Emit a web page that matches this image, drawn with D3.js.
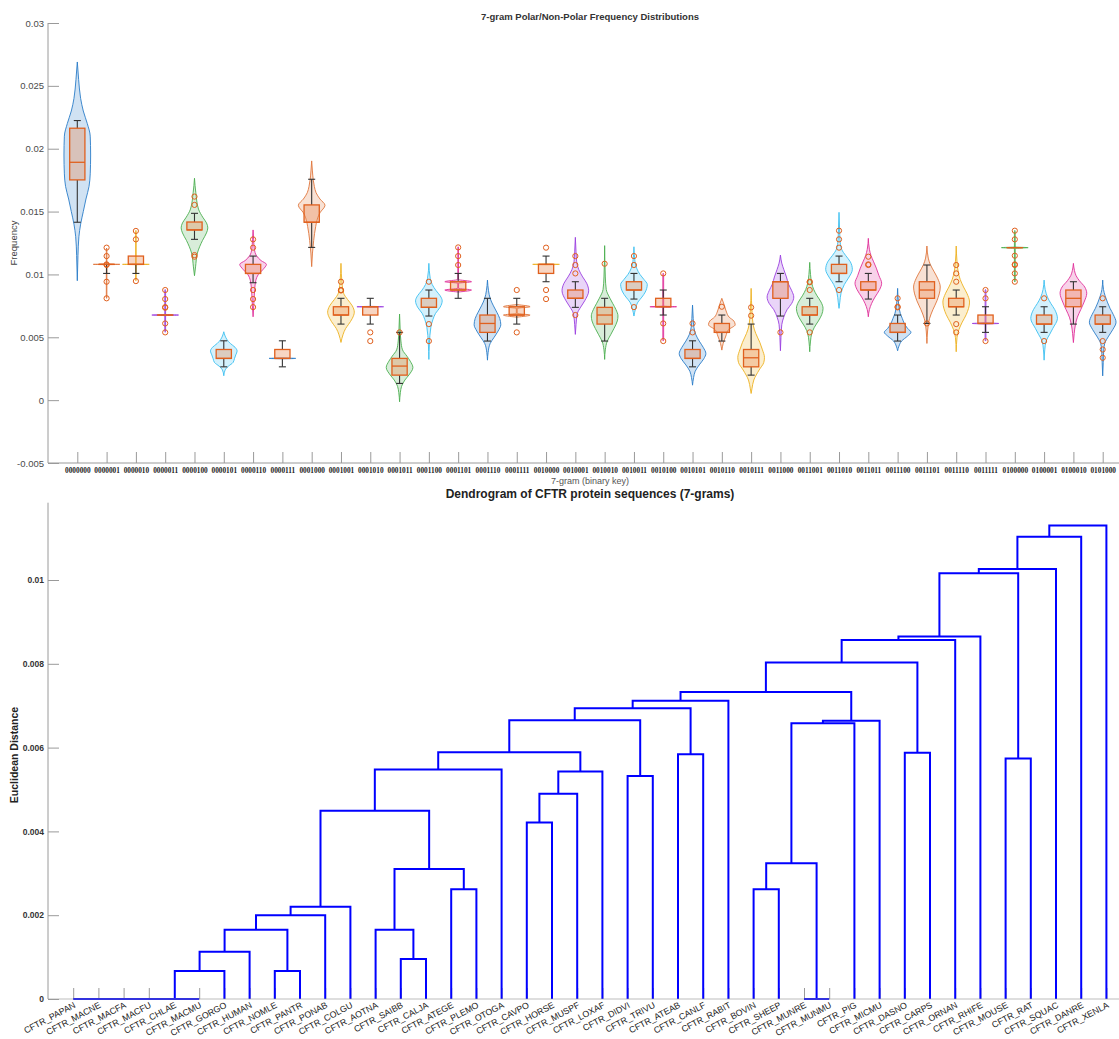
<!DOCTYPE html>
<html><head><meta charset="utf-8">
<script src="https://cdn.jsdelivr.net/npm/d3@7"></script>
<style>body{margin:0;background:#fff}svg{display:block}</style>
</head><body>
<svg id="c" width="1119" height="1039"></svg>
<script>
// ---------------- DATA: violin chart ----------------
const categories = ["0000000","0000001","0000010","0000011","0000100","0000101","0000110","0000111",
"0001000","0001001","0001010","0001011","0001100","0001101","0001110","0001111","0010000","0010001",
"0010010","0010011","0010100","0010101","0010110","0010111","0011000","0011001","0011010","0011011",
"0011100","0011101","0011110","0011111","0100000","0100001","0100010","0101000"];

// [whiskerLow, q1, median, q3, whiskerHigh]
const boxStats = [
[0.01415,0.01752,0.01892,0.02163,0.02224],
[0.01008,0.0108,0.0108,0.0108,0.0108],
[0.01008,0.0108,0.0108,0.01146,0.01146],
[0.00677,0.00677,0.00677,0.00677,0.00677],
[0.01279,0.01354,0.01354,0.01417,0.01486],
[0.00265,0.00332,0.00332,0.00403,0.00472],
[0.00934,0.01008,0.01008,0.0108,0.01146],
[0.00265,0.00332,0.00332,0.00403,0.00472],
[0.01215,0.01415,0.01415,0.01553,0.01757],
[0.00605,0.00677,0.00677,0.00743,0.0081],
[0.00605,0.00677,0.00743,0.00743,0.0081],
[0.00133,0.00199,0.00271,0.00332,0.00539],
[0.00669,0.00738,0.00738,0.0081,0.00876],
[0.0081,0.00876,0.00876,0.00942,0.01008],
[0.0047,0.00539,0.0061,0.00677,0.0081],
[0.00605,0.00677,0.00677,0.00743,0.0081],
[0.00942,0.01008,0.0108,0.0108,0.01146],
[0.00738,0.0081,0.0081,0.00876,0.00942],
[0.0047,0.00605,0.00677,0.00738,0.0081],
[0.00804,0.00876,0.00876,0.00942,0.01008],
[0.00677,0.00743,0.00743,0.0081,0.00876],
[0.00265,0.00332,0.00332,0.00403,0.00472],
[0.0047,0.00539,0.00539,0.0061,0.00677],
[0.00199,0.00265,0.00337,0.00403,0.00605],
[0.00669,0.0081,0.00942,0.00942,0.01008],
[0.00605,0.00677,0.00677,0.00743,0.0081],
[0.00942,0.01008,0.01008,0.0108,0.01146],
[0.00804,0.00876,0.00876,0.00942,0.01008],
[0.0047,0.00539,0.00539,0.0061,0.00677],
[0.0061,0.0081,0.00876,0.00942,0.01075],
[0.00677,0.00743,0.00743,0.0081,0.00876],
[0.00539,0.0061,0.0061,0.00677,0.00743],
[0.01213,0.01213,0.01213,0.01213,0.01213],
[0.00539,0.00605,0.00605,0.00677,0.00743],
[0.00605,0.00743,0.0081,0.00876,0.00942],
[0.00539,0.00605,0.00605,0.00677,0.00743]
];

const outliers = [
[],
[0.01213,0.01146,0.0108,0.01075,0.00942,0.0081],
[0.01346,0.01279,0.00947],
[0.00876,0.00804,0.0074,0.00735,0.0061,0.00539],
[0.01619,0.01553,0.01154,0.01141],
[],
[0.01279,0.01213,0.00876,0.00804,0.0074],
[],
[],
[0.00942,0.00876,0.00872],
[0.00539,0.0047],
[0.00539],
[0.00942,0.00605,0.0047],
[0.01215,0.01146,0.01075],
[],
[0.00876,0.00539],
[0.01213,0.00876,0.00804],
[0.01146,0.01075,0.01008,0.00677],
[0.01085],
[0.01146,0.01075,0.0074],
[0.01008,0.0061,0.0047],
[0.0061,0.00539],
[0.00743],
[0.00738,0.00672],
[0.00539],
[0.00942,0.00938,0.00876,0.00539],
[0.01348,0.01279,0.01213,0.00876],
[0.01141,0.0108,0.01075],
[0.0081,0.00743,0.00738],
[0.0061],
[0.01075,0.01008,0.00942,0.00605,0.00539],
[0.00876,0.0081,0.0047],
[0.01348,0.01279,0.01149,0.0108,0.01075,0.01008,0.00942],
[0.0081,0.0047],
[],
[0.0081,0.0047,0.00403,0.00337]
];

// violin outline: [value, relative half-width]
const violinProfiles = [
[[0.0095,0],[0.0115,0.05],[0.013,0.12],[0.014,0.25],[0.015,0.45],[0.016,0.65],[0.017,0.88],[0.018,0.97],[0.0195,1],[0.021,0.97],[0.022,0.75],[0.023,0.45],[0.024,0.25],[0.0255,0.1],[0.0269,0]],
[[0.0081,0],[0.0082,0.02],[0.01077,0.02],[0.0108,1],[0.01083,0.02],[0.012,0.02],[0.0121,0]],
[[0.0095,0],[0.0096,0.02],[0.01077,0.02],[0.0108,1],[0.01083,0.02],[0.0134,0.02],[0.0135,0]],
[[0.0054,0],[0.0055,0.03],[0.00672,0.03],[0.00677,1],[0.00682,0.03],[0.0087,0.03],[0.0088,0]],
[[0.0099,0],[0.0106,0.08],[0.0117,0.22],[0.0127,0.6],[0.0133,0.9],[0.0137,1],[0.0141,0.9],[0.0145,0.65],[0.0152,0.3],[0.0165,0.1],[0.01765,0]],
[[0.00194,0],[0.0024,0.1],[0.0027,0.35],[0.003,0.7],[0.0033,0.8],[0.0036,0.9],[0.0039,1],[0.0042,0.85],[0.0045,0.5],[0.0048,0.25],[0.0051,0.1],[0.00544,0]],
[[0.00663,0],[0.0075,0.05],[0.0088,0.12],[0.0095,0.2],[0.01,0.4],[0.0104,0.75],[0.0108,1],[0.0111,0.6],[0.0115,0.25],[0.012,0.1],[0.0128,0.04],[0.01354,0]],
[[0.00329,0],[0.00332,1],[0.00335,0]],
[[0.01062,0],[0.0117,0.06],[0.0127,0.15],[0.0138,0.3],[0.0145,0.45],[0.0149,0.62],[0.0155,1],[0.016,0.62],[0.0165,0.33],[0.017,0.2],[0.0175,0.12],[0.0183,0.05],[0.01903,0]],
[[0.00459,0],[0.0052,0.15],[0.0057,0.35],[0.006,0.55],[0.0065,0.85],[0.007,1],[0.0075,0.85],[0.008,0.5],[0.0085,0.2],[0.0093,0.08],[0.01088,0]],
[[0.0074,0],[0.00743,1],[0.00746,0]],
[[-0.00013,0],[0.0006,0.06],[0.0011,0.15],[0.0016,0.4],[0.002,0.7],[0.0026,1],[0.0031,0.8],[0.0035,0.55],[0.004,0.22],[0.0047,0.1],[0.0055,0.05],[0.00685,0]],
[[0.00324,0],[0.0045,0.04],[0.0058,0.15],[0.0064,0.3],[0.0069,0.5],[0.0074,0.85],[0.0079,1],[0.0083,0.85],[0.0087,0.55],[0.0092,0.25],[0.0097,0.1],[0.01088,0]],
[[0.0086,0],[0.00876,1],[0.0089,0.03],[0.0093,0.03],[0.00942,1],[0.0096,0.03],[0.0121,0.02],[0.0122,0]],
[[0.00318,0],[0.0038,0.05],[0.0045,0.2],[0.005,0.5],[0.0055,0.8],[0.006,1],[0.0065,0.92],[0.007,0.7],[0.0075,0.45],[0.0081,0.2],[0.0087,0.08],[0.00955,0]],
[[0.0066,0],[0.00677,1],[0.0069,0.03],[0.0073,0.03],[0.00743,1],[0.0076,0]],
[[0.01077,0],[0.0108,1],[0.01083,0]],
[[0.00523,0],[0.006,0.05],[0.0069,0.15],[0.0074,0.4],[0.0079,0.7],[0.0087,1],[0.0093,0.85],[0.0098,0.55],[0.0104,0.25],[0.011,0.1],[0.0118,0.05],[0.01295,0]],
[[0.00324,0],[0.004,0.05],[0.0047,0.2],[0.0052,0.45],[0.0057,0.7],[0.0063,0.95],[0.0067,1],[0.0072,0.85],[0.0077,0.6],[0.0081,0.4],[0.0088,0.12],[0.0098,0.05],[0.01229,0]],
[[0.00669,0],[0.0072,0.1],[0.0078,0.3],[0.0082,0.6],[0.0086,0.85],[0.0092,1],[0.0096,0.75],[0.01,0.45],[0.0105,0.2],[0.011,0.08],[0.0122,0]],
[[0.0047,0],[0.0048,0.03],[0.00738,0.03],[0.00743,1],[0.00748,0.03],[0.01,0.03],[0.0101,0]],
[[0.00119,0],[0.0018,0.08],[0.0023,0.2],[0.0028,0.5],[0.0033,0.85],[0.0037,1],[0.0042,0.8],[0.0047,0.5],[0.0052,0.25],[0.0058,0.1],[0.0065,0.05],[0.00756,0]],
[[0.00398,0],[0.0045,0.1],[0.0051,0.3],[0.0056,0.5],[0.006,1],[0.0063,0.9],[0.0066,0.55],[0.007,0.35],[0.0075,0.2],[0.0081,0]],
[[0.00053,0],[0.0009,0.06],[0.0016,0.2],[0.0024,0.6],[0.003,0.95],[0.0034,1],[0.004,0.85],[0.0046,0.65],[0.0053,0.35],[0.006,0.15],[0.007,0.07],[0.00889,0]],
[[0.00393,0],[0.005,0.04],[0.006,0.1],[0.0066,0.25],[0.0072,0.5],[0.0077,0.85],[0.0082,1],[0.0087,0.85],[0.0092,0.62],[0.0098,0.45],[0.0104,0.25],[0.0109,0.1],[0.01154,0]],
[[0.00385,0],[0.0047,0.06],[0.0053,0.15],[0.0058,0.35],[0.0063,0.65],[0.0068,0.9],[0.0073,1],[0.0078,0.85],[0.0083,0.55],[0.0088,0.3],[0.0093,0.15],[0.01,0.06],[0.01096,0]],
[[0.0073,0],[0.0078,0.06],[0.0085,0.15],[0.0092,0.4],[0.0097,0.7],[0.0104,1],[0.011,0.85],[0.0115,0.5],[0.012,0.2],[0.0128,0.07],[0.0137,0.04],[0.01494,0]],
[[0.00663,0],[0.0072,0.08],[0.0077,0.25],[0.0082,0.5],[0.0088,0.85],[0.0093,1],[0.0099,0.8],[0.0105,0.6],[0.011,0.4],[0.0115,0.2],[0.012,0.08],[0.01287,0]],
[[0.00393,0],[0.0043,0.1],[0.0047,0.3],[0.0051,0.75],[0.0054,1],[0.0057,0.75],[0.0061,0.5],[0.0065,0.35],[0.0069,0.2],[0.0076,0.08],[0.00889,0]],
[[0.00451,0],[0.0055,0.05],[0.006,0.1],[0.0065,0.2],[0.0072,0.45],[0.0079,0.75],[0.009,1],[0.0097,0.8],[0.0102,0.55],[0.0108,0.25],[0.0113,0.1],[0.01226,0]],
[[0.00385,0],[0.005,0.06],[0.0056,0.2],[0.0062,0.45],[0.0068,0.75],[0.0078,1],[0.0085,0.8],[0.009,0.55],[0.0096,0.3],[0.0102,0.15],[0.011,0.06],[0.01226,0]],
[[0.0047,0],[0.0048,0.03],[0.00605,0.03],[0.0061,1],[0.00615,0.03],[0.0087,0.03],[0.0088,0]],
[[0.0094,0],[0.0095,0.03],[0.01208,0.03],[0.01213,1],[0.01218,0.03],[0.0134,0.03],[0.0135,0]],
[[0.00318,0],[0.004,0.05],[0.0047,0.15],[0.0052,0.4],[0.0057,0.65],[0.0065,1],[0.0072,0.8],[0.0077,0.5],[0.0082,0.25],[0.0088,0.08],[0.00955,0]],
[[0.00458,0],[0.0053,0.06],[0.006,0.15],[0.0066,0.3],[0.0072,0.55],[0.0078,0.8],[0.0085,1],[0.009,0.85],[0.0095,0.45],[0.0099,0.2],[0.0103,0.08],[0.01088,0]],
[[0.00193,0],[0.003,0.04],[0.004,0.08],[0.0045,0.15],[0.0051,0.45],[0.0056,0.75],[0.0062,1],[0.0068,0.8],[0.0073,0.55],[0.0078,0.35],[0.0083,0.18],[0.0088,0.06],[0.00955,0]]
];

const freqTicks = [-0.005,0,0.005,0.01,0.015,0.02,0.025,0.03];
const freqTickLabels = ["-0.005","0","0.005","0.01","0.015","0.02","0.025","0.03"];

// ---------------- DATA: dendrogram ----------------
const leafNames = ["CFTR_PAPAN","CFTR_MACNE","CFTR_MACFA","CFTR_MACFU","CFTR_CHLAE","CFTR_MACMU",
"CFTR_GORGO","CFTR_HUMAN","CFTR_NOMLE","CFTR_PANTR","CFTR_PONAB","CFTR_COLGU","CFTR_AOTNA","CFTR_SAIBB",
"CFTR_CALJA","CFTR_ATEGE","CFTR_PLEMO","CFTR_OTOGA","CFTR_CAVPO","CFTR_HORSE","CFTR_MUSPF","CFTR_LOXAF",
"CFTR_DIDVI","CFTR_TRIVU","CFTR_ATEAB","CFTR_CANLF","CFTR_RABIT","CFTR_BOVIN","CFTR_SHEEP","CFTR_MUNRE",
"CFTR_MUNMU","CFTR_PIG","CFTR_MICMU","CFTR_DASNO","CFTR_CARPS","CFTR_ORNAN","CFTR_RHIFE","CFTR_MOUSE",
"CFTR_RAT","CFTR_SQUAC","CFTR_DANRE","CFTR_XENLA"];

// linkage rows: [child A, child B, height]; leaves are 1..42, merged clusters 43..83
const linkage = [
[1,2,0],[43,3,0],[44,4,0],[45,5,0],[46,6,0],
[47,7,0.000668],[48,8,0.00113],[9,10,0.000668],[49,50,0.00165],[51,11,0.0020],[52,12,0.0022],
[14,15,0.000955],[13,54,0.00165],[16,17,0.00262],[55,56,0.0031],[53,57,0.00449],[58,18,0.00548],
[19,20,0.00421],[60,21,0.0049],[61,22,0.00543],[59,62,0.00589],[23,24,0.00532],[63,64,0.00665],
[25,26,0.00584],[65,66,0.00694],[67,27,0.00712],[28,29,0.00262],[30,31,0],[69,70,0.00324],
[71,32,0.00658],[72,33,0.00664],[68,73,0.00733],[34,35,0.00588],[74,75,0.00803],[76,36,0.00857],
[77,37,0.00865],[38,39,0.00574],[78,79,0.01016],[80,40,0.01026],[81,41,0.01103],[82,42,0.0113]
];
const distTicks = [0,0.002,0.004,0.006,0.008,0.01];
const distTickLabels = ["0","0.002","0.004","0.006","0.008","0.01"];

// ---------------- DRAW ----------------
const svg = d3.select("#c");
const palette = ["#2A7DC8","#E0763C","#EDB120","#9B3FE0","#4CAF50","#3CC0F0","#E0309A"];
const axisCol = "#9a9a9a";

// ---- violin panel ----
const x1 = d3.scaleLinear().domain([0, categories.length + 1]).range([48, 1132]);
const y1 = d3.scaleLinear().domain([-0.005, 0.03]).range([463, 23]);
const g1 = svg.append("g");
const hw = x1(0.455) - x1(0);
const bw = x1(0.26) - x1(0);
const cw = x1(0.12) - x1(0);

const ax1 = g1.append("g").attr("transform","translate(48,0)")
  .call(d3.axisLeft(y1).tickValues(freqTicks).tickFormat((d,i)=>freqTickLabels[i]).tickSize(-11).tickPadding(14));
const ax1b = g1.append("g").attr("transform","translate(0,463)")
  .call(d3.axisBottom(x1).tickValues(d3.range(1, categories.length+1)).tickFormat(d=>categories[d-1]).tickSize(-11).tickPadding(5));
[ax1, ax1b].forEach(a=>{
  a.select(".domain").attr("stroke",axisCol);
  a.selectAll(".tick line").attr("stroke",axisCol);
});
ax1.select(".domain").attr("d","M0,23V463");
ax1b.select(".domain").attr("d","M48,0H1119");
ax1.selectAll(".tick text").attr("font-family","Arial, Liberation Sans, sans-serif").attr("font-size","9.5px").attr("fill","#4a4a4a").attr("x",-4);
ax1b.selectAll(".tick text").attr("font-family","Liberation Serif, serif").attr("font-weight","bold").attr("font-size","7.3px").attr("fill","#222");

g1.append("text").attr("x",590).attr("y",20).attr("text-anchor","middle")
  .attr("font-family","Arial, Liberation Sans, sans-serif").attr("font-weight","bold").attr("font-size","9.5px").attr("fill","#333")
  .text("7-gram Polar/Non-Polar Frequency Distributions");
g1.append("text").attr("x",590).attr("y",484).attr("text-anchor","middle")
  .attr("font-family","Arial, Liberation Sans, sans-serif").attr("font-size","9px").attr("fill","#555")
  .text("7-gram (binary key)");
g1.append("text").attr("transform","translate(17,243) rotate(-90)").attr("text-anchor","middle")
  .attr("font-family","Arial, Liberation Sans, sans-serif").attr("font-size","9.5px").attr("fill","#444")
  .text("Frequency");

categories.forEach((c,i)=>{
  const cx = x1(i+1);
  const col = palette[i % palette.length];
  const area = d3.area().curve(d3.curveMonotoneY)
    .y(d=>y1(d[0])).x0(d=>cx - d[1]*hw).x1(d=>cx + d[1]*hw);
  g1.append("path").attr("d", area(violinProfiles[i]))
    .attr("fill",col).attr("fill-opacity",0.22).attr("stroke",col).attr("stroke-width",0.9);
  const [wl,q1,md,q3,wh] = boxStats[i];
  const wk = g1.append("g").attr("stroke","#333").attr("stroke-width",1.1);
  if (wh > q3) {
    wk.append("line").attr("x1",cx).attr("x2",cx).attr("y1",y1(q3)).attr("y2",y1(wh));
    wk.append("line").attr("x1",cx-cw).attr("x2",cx+cw).attr("y1",y1(wh)).attr("y2",y1(wh));
  }
  if (wl < q1) {
    wk.append("line").attr("x1",cx).attr("x2",cx).attr("y1",y1(q1)).attr("y2",y1(wl));
    wk.append("line").attr("x1",cx-cw).attr("x2",cx+cw).attr("y1",y1(wl)).attr("y2",y1(wl));
  }
  g1.append("rect").attr("x",cx-bw).attr("width",2*bw)
    .attr("y",y1(q3)).attr("height",Math.max(0.01,y1(q1)-y1(q3)))
    .attr("fill","#E8874F").attr("fill-opacity",0.35).attr("stroke","#E0601E").attr("stroke-width",1.3);
  g1.append("line").attr("x1",cx-bw).attr("x2",cx+bw).attr("y1",y1(md)).attr("y2",y1(md))
    .attr("stroke","#E0601E").attr("stroke-width",1.3);
  g1.append("g").selectAll("circle").data(outliers[i]).join("circle")
    .attr("cx",cx).attr("cy",d=>y1(d)).attr("r",2.6)
    .attr("fill","none").attr("stroke","#E0601E").attr("stroke-width",1);
});

// ---- dendrogram panel ----
const n = leafNames.length;
const x2 = d3.scaleLinear().domain([0, n + 1]).range([48, 1131.6]);
const y2 = d3.scaleLinear().domain([0, 0.011845]).range([999, 502.7]);
const g2 = svg.append("g");

const ax2 = g2.append("g").attr("transform","translate(48,0)")
  .call(d3.axisLeft(y2).tickValues(distTicks).tickFormat((d,i)=>distTickLabels[i]).tickSize(-11).tickPadding(14));
const ax2b = g2.append("g").attr("transform","translate(0,999)")
  .call(d3.axisBottom(x2).tickValues(d3.range(1,n+1)).tickFormat("").tickSize(-11));
[ax2, ax2b].forEach(a=>{
  a.select(".domain").attr("stroke",axisCol);
  a.selectAll(".tick line").attr("stroke",axisCol);
});
ax2.select(".domain").attr("d","M0,502.7V999");
ax2b.select(".domain").remove();
ax2.selectAll(".tick text").attr("font-family","Arial, Liberation Sans, sans-serif").attr("font-weight","bold")
  .attr("font-size","8.5px").attr("fill","#333").attr("x",-4);

const nodeX = {}, nodeH = {};
for (let i=1;i<=n;i++){ nodeX[i]=i; nodeH[i]=0; }
linkage.forEach((r,k)=>{
  const id = n + 1 + k;
  nodeX[id] = (nodeX[r[0]] + nodeX[r[1]]) / 2;
  nodeH[id] = r[2];
});
const links = linkage.map(r=>{
  const [a,b,h] = r;
  return `M${x2(nodeX[a])},${y2(nodeH[a])}V${y2(h)}H${x2(nodeX[b])}V${y2(nodeH[b])}`;
});
g2.append("g").selectAll("path").data(links).join("path")
  .attr("d",d=>d).attr("fill","none").attr("stroke","#0000FF").attr("stroke-width",2);
g2.append("line").attr("x1",48).attr("x2",1119).attr("y1",999).attr("y2",999)
  .attr("stroke",axisCol).attr("stroke-opacity",0.65).attr("stroke-width",1);

g2.append("g").selectAll("text").data(leafNames).join("text")
  .attr("transform",(d,i)=>`translate(${x2(i+1)+3},${1007}) rotate(-28)`)
  .attr("text-anchor","end")
  .attr("font-family","Arial, Liberation Sans, sans-serif").attr("font-size","8.8px").attr("fill","#222")
  .text(d=>d);

g2.append("text").attr("x",590).attr("y",498).attr("text-anchor","middle")
  .attr("font-family","Arial, Liberation Sans, sans-serif").attr("font-weight","bold").attr("font-size","12px").attr("fill","#222")
  .text("Dendrogram of CFTR protein sequences (7-grams)");
g2.append("text").attr("transform","translate(18,755) rotate(-90)").attr("text-anchor","middle")
  .attr("font-family","Arial, Liberation Sans, sans-serif").attr("font-weight","bold").attr("font-size","10.5px").attr("fill","#222")
  .text("Euclidean Distance");
</script>
</body></html>
